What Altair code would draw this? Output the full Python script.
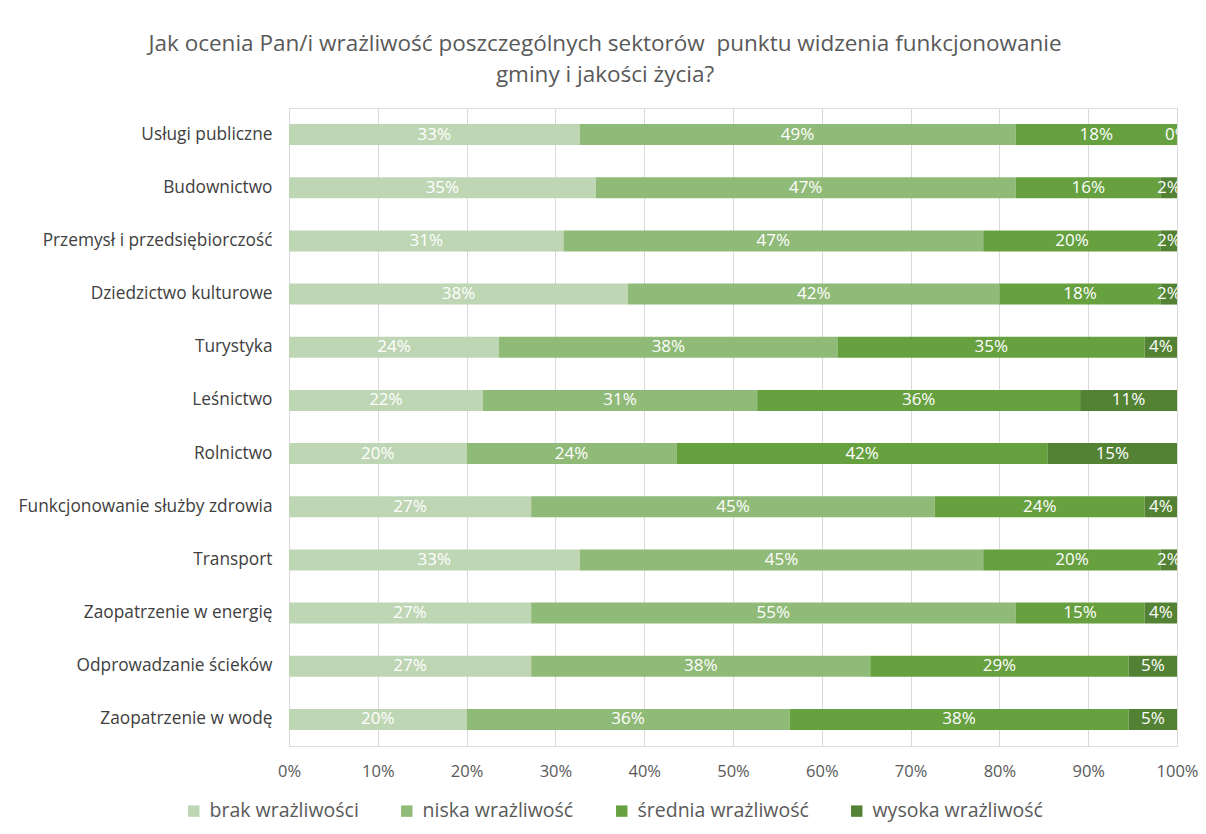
import altair as alt
import pandas as pd

sectors = [
    "Usługi publiczne",
    "Budownictwo",
    "Przemysł i przedsiębiorczość",
    "Dziedzictwo kulturowe",
    "Turystyka",
    "Leśnictwo",
    "Rolnictwo",
    "Funkcjonowanie służby zdrowia",
    "Transport",
    "Zaopatrzenie w energię",
    "Odprowadzanie ścieków",
    "Zaopatrzenie w wodę",
]
categories = ["brak wrażliwości", "niska wrażliwość", "średnia wrażliwość", "wysoka wrażliwość"]
colors = ["#BED6B4", "#90BA78", "#66A03F", "#548235"]

# percentages per category
brak = [32.73, 34.55, 30.91, 38.18, 23.64, 21.82, 20.00, 27.27, 32.73, 27.27, 27.27, 20.00]
niska = [49.09, 47.27, 47.27, 41.82, 38.18, 30.91, 23.64, 45.45, 45.45, 54.55, 38.18, 36.36]
srednia = [18.18, 16.36, 20.00, 18.18, 34.55, 36.36, 41.82, 23.64, 20.00, 14.55, 29.09, 38.18]
wysoka = [0.00, 1.82, 1.82, 1.82, 3.64, 10.91, 14.55, 3.64, 1.82, 3.64, 5.45, 5.45]
x_ticks = [i / 10 for i in range(11)]

series = [brak, niska, srednia, wysoka]
rows = []
for ci, (cat, vals) in enumerate(zip(categories, series)):
    for s, v in zip(sectors, vals):
        rows.append({"sector": s, "category": cat, "order": ci, "value": v})
df = pd.DataFrame(rows)

FONT = "Open Sans"

base = alt.Chart(df).transform_stack(
    stack="value",
    groupby=["sector"],
    as_=["x0", "x1"],
    offset="normalize",
    sort=[alt.SortField("order", order="ascending")],
).transform_calculate(
    mid="(datum.x0 + datum.x1) / 2",
    label="format(datum.value, '.0f') + '%'",
)

y_enc = alt.Y(
    "sector:N",
    sort=sectors,
    title=None,
    scale=alt.Scale(paddingInner=0, paddingOuter=0),
    axis=alt.Axis(
        domain=False,
        ticks=False,
        labelFont=FONT,
        labelFontSize=17.3,
        labelColor="#404040",
        labelPadding=17,
        labelLimit=400,
    ),
)

bars = base.mark_bar(size=21).encode(
    x=alt.X(
        "x0:Q",
        title=None,
        scale=alt.Scale(domain=[0, 1], nice=False),
        axis=alt.Axis(
            values=x_ticks,
            format=".0%",
            domain=False,
            ticks=False,
            grid=True,
            gridColor="#D9D9D9",
            gridWidth=1,
            labelFont=FONT,
            labelFontSize=16.5,
            labelColor="#595959",
            labelPadding=17,
            labelFlush=False,
        ),
    ),
    x2="x1:Q",
    y=y_enc,
    color=alt.Color(
        "category:N",
        sort=categories,
        scale=alt.Scale(domain=categories, range=colors),
        legend=alt.Legend(
            title=None,
            orient="none",
            direction="horizontal",
            legendX=-105,
            legendY=693,
            symbolType="square",
            symbolSize=130,
            symbolStrokeWidth=0,
            labelFont=FONT,
            labelFontSize=19.5,
            labelColor="#595959",
            columnPadding=38,
            labelOffset=6,
            labelLimit=300,
        ),
    ),
    order=alt.Order("order:Q"),
)

text = base.mark_text(
    color="white", font=FONT, fontSize=17, clip=True, baseline="middle"
).encode(
    x=alt.X("mid:Q"),
    y=alt.Y("sector:N", sort=sectors),
    text="label:N",
)

chart = (
    alt.layer(bars, text)
    .properties(
        width=888,
        height=638,
        autosize=alt.AutoSizeParams(type="none"),
        padding={"left": 281, "top": 100, "right": 21, "bottom": 80},
        title=alt.TitleParams(
            text=[
                "Jak ocenia Pan/i wrażliwość poszczególnych sektorów\u00a0 punktu widzenia funkcjonowanie",
                "gminy i jakości życia?",
            ],
            font=FONT,
            fontSize=22.5,
            fontWeight="normal",
            color="#595959",
            anchor="middle",
            dx=-128,
            offset=22,
            lineHeight=31,
        ),
    )
    .configure_view(stroke=None)
    .configure(background="white")
)

chart.save("out.html", embed_options={"renderer": "svg", "actions": False})
